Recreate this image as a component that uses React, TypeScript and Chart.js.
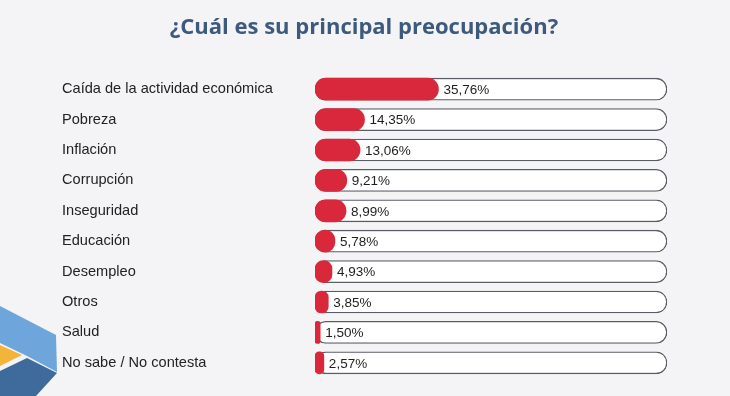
import React, { useEffect, useRef } from "react";
import { Chart, registerables } from "chart.js";

Chart.register(...registerables);

const categories = [
  "Caída de la actividad económica",
  "Pobreza",
  "Inflación",
  "Corrupción",
  "Inseguridad",
  "Educación",
  "Desempleo",
  "Otros",
  "Salud",
  "No sabe / No contesta",
];
const values = [35.76, 14.35, 13.06, 9.21, 8.99, 5.78, 4.93, 3.85, 1.5, 2.57];
const trackMax = 102;
const trackValues = categories.map(() => trackMax);
const valueLabels = ["35,76%", "14,35%", "13,06%", "9,21%", "8,99%", "5,78%", "4,93%", "3,85%", "1,50%", "2,57%"];
const title = "¿Cuál es su principal preocupación?";

const BG = "#f4f4f6";

const backgroundPlugin = {
  id: "bgDeco",
  beforeDraw(chart: any) {
    const ctx = chart.ctx;
    ctx.save();
    ctx.fillStyle = BG;
    ctx.fillRect(0, 0, chart.width, chart.height);
    // decorative corner shapes
    ctx.fillStyle = "#6ea5da";
    ctx.beginPath();
    ctx.moveTo(0, 306);
    ctx.lineTo(56, 335);
    ctx.lineTo(57, 372);
    ctx.lineTo(27, 356);
    ctx.lineTo(0, 343);
    ctx.closePath();
    ctx.fill();
    ctx.fillStyle = "#f4b43a";
    ctx.beginPath();
    ctx.moveTo(0, 345);
    ctx.lineTo(22, 355);
    ctx.lineTo(0, 366);
    ctx.closePath();
    ctx.fill();
    ctx.fillStyle = "#3f6a9c";
    ctx.beginPath();
    ctx.moveTo(27, 358);
    ctx.lineTo(57, 373);
    ctx.lineTo(36, 396);
    ctx.lineTo(0, 396);
    ctx.lineTo(0, 371);
    ctx.closePath();
    ctx.fill();
    // title
    ctx.font = "bold 22px 'Open Sans', sans-serif";
    ctx.fillStyle = "#3d5a7d";
    ctx.textAlign = "center";
    ctx.textBaseline = "alphabetic";
    ctx.fillText(title, 364, 34);
    ctx.restore();
  },
};

const valueLabelPlugin = {
  id: "valueLabels",
  afterDatasetsDraw(chart: any) {
    const ctx = chart.ctx;
    const meta = chart.getDatasetMeta(0);
    ctx.save();
    ctx.font = "13.5px 'Liberation Sans', Arial, sans-serif";
    ctx.fillStyle = "#1e1e1e";
    ctx.textAlign = "left";
    ctx.textBaseline = "middle";
    meta.data.forEach((el: any, i: number) => {
      ctx.fillText(valueLabels[i], el.x + 5, el.y + 1);
    });
    ctx.restore();
  },
};

export default function App() {
  const ref = useRef<HTMLCanvasElement | null>(null);
  useEffect(() => {
    if (!ref.current) return;
    const chart = new Chart(ref.current, {
      type: "bar",
      data: {
        labels: categories,
        datasets: [
          {
            data: values,
            backgroundColor: "#d9283c",
            borderWidth: 0,
            borderRadius: 11,
            borderSkipped: false,
            barThickness: 22,
            grouped: false,
          },
          {
            data: trackValues,
            backgroundColor: "#ffffff",
            borderColor: "#5a5d66",
            borderWidth: 1.3,
            borderRadius: 11,
            borderSkipped: false,
            barThickness: 22,
            grouped: false,
          },
        ],
      },
      options: {
        indexAxis: "y",
        animation: false,
        responsive: true,
        maintainAspectRatio: false,
        layout: { padding: { left: 62, right: 63, top: 74, bottom: 18 } },
        plugins: {
          legend: { display: false },
          tooltip: { enabled: false },
          title: { display: false },
        },
        scales: {
          x: { display: false, min: 0, max: trackMax },
          y: {
            grid: { display: false, drawTicks: false },
            border: { display: false },
            afterFit(scale: any) {
              scale.width = 253;
              scale.paddingTop = 0;
              scale.paddingBottom = 0;
            },
            ticks: {
              crossAlign: "far",
              padding: 42,
              color: "#222222",
              font: { family: "'Liberation Sans', Arial, sans-serif", size: 14.6 },
            },
          },
        },
      },
      plugins: [backgroundPlugin, valueLabelPlugin],
    });
    return () => chart.destroy();
  }, []);
  return (
    <div style={{ position: "fixed", left: 0, top: 0, width: 730, height: 396, background: BG }}>
      <canvas ref={ref} style={{ display: "block" }} />
    </div>
  );
}
